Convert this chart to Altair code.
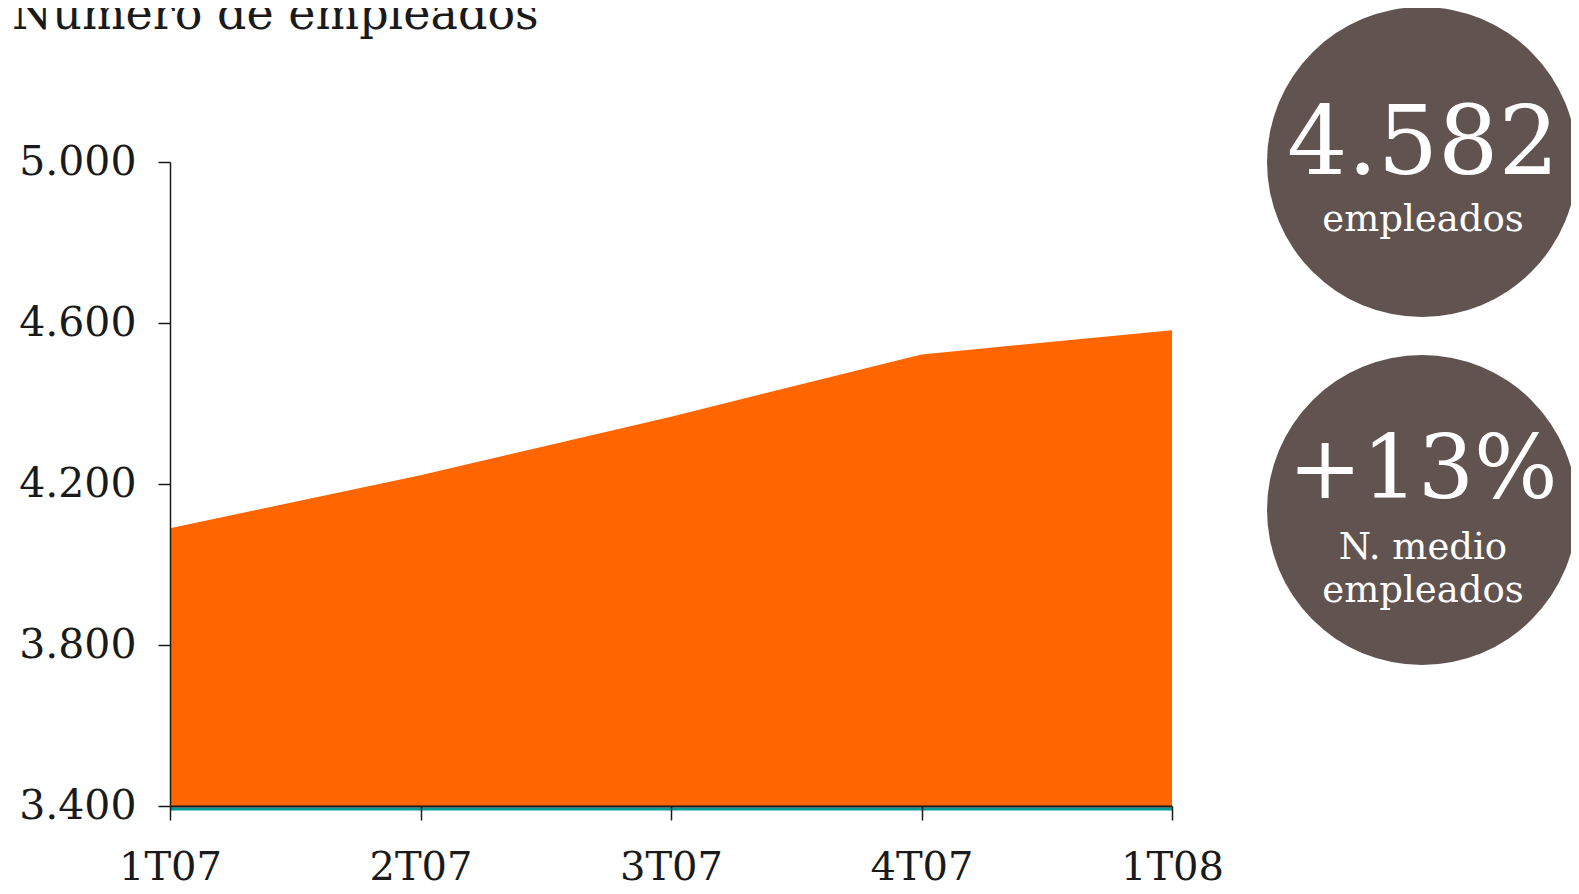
import altair as alt
import pandas as pd

quarters = ["1T07", "2T07", "3T07", "4T07", "1T08"]
employees = [4090, 4222, 4367, 4522, 4582]
y_ticks = [3400, 3800, 4200, 4600, 5000]
title_text = "Número de empleados"
badge_values = ["4.582", "+13%"]
badge1_caption = ["empleados"]
badge2_caption = ["N. medio", "empleados"]

df = pd.DataFrame({"quarter": quarters, "employees": employees})
one = pd.DataFrame({"k": [0]})

FONT = "DejaVu Serif"
INK = "#1a1a1a"
BADGE = "#615450"
W, H = 1002, 644

x_enc = alt.X(
    "quarter:O",
    sort=quarters,
    scale=alt.Scale(type="point", padding=0),
    axis=alt.Axis(
        title=None, labelAngle=0, labelFont=FONT, labelFontSize=40,
        labelColor=INK, labelPadding=27, tickSize=14, tickColor=INK,
        domainColor=INK, domainWidth=2, tickWidth=1.5, zindex=2,
    ),
)
y_enc = alt.Y(
    "employees:Q",
    scale=alt.Scale(domain=[3400, 5000], zero=False, nice=False),
    axis=alt.Axis(
        title=None, values=y_ticks, grid=False, labelFont=FONT,
        labelFontSize=41, labelColor=INK, labelPadding=22, tickSize=12,
        tickColor=INK, domainColor=INK, domainWidth=1.5, tickWidth=1.5,
        labelExpr="replace(format(datum.value, ','), ',', '.')", zindex=2,
    ),
)

area = alt.Chart(df).mark_area(color="#ff6600", opacity=1).encode(
    x=x_enc, y=y_enc, y2=alt.datum(3400)
)

teal = alt.Chart(one).mark_rule(color="#009a9a", strokeWidth=3, yOffset=3).encode(
    y=alt.datum(3400)
)

title = alt.Chart(one).mark_text(
    font=FONT, fontSize=46, color=INK, align="left", baseline="alphabetic"
).encode(x=alt.value(-158), y=alt.value(-133), text=alt.value(title_text))

CX = 1252
R = 155
circ1 = alt.Chart(one).mark_circle(size=4 * R * R, color=BADGE, opacity=1).encode(
    x=alt.value(CX), y=alt.value(0)
)
circ2 = alt.Chart(one).mark_circle(size=4 * R * R, color=BADGE, opacity=1).encode(
    x=alt.value(CX), y=alt.value(348)
)


def label(txt, y, size):
    return alt.Chart(one).mark_text(
        font=FONT, fontSize=size, color="white", align="center", baseline="alphabetic"
    ).encode(x=alt.value(CX + 1), y=alt.value(y), text=alt.value(txt))


texts = [
    label(badge_values[0], 12, 95),
    label(badge1_caption[0], 69, 37),
    label(badge_values[1], 336, 88),
    label(badge2_caption[0], 397, 37),
    label(badge2_caption[1], 440, 37),
]

chart = alt.layer(area, teal, title, circ1, circ2, *texts).properties(
    width=W,
    height=H,
    padding={"left": 162, "top": 154, "right": 399, "bottom": 80},
    autosize=alt.AutoSizeParams(type="none"),
    background="white",
).configure_view(stroke=None)

chart.save("out.html", embed_options={"renderer": "svg", "actions": False})
